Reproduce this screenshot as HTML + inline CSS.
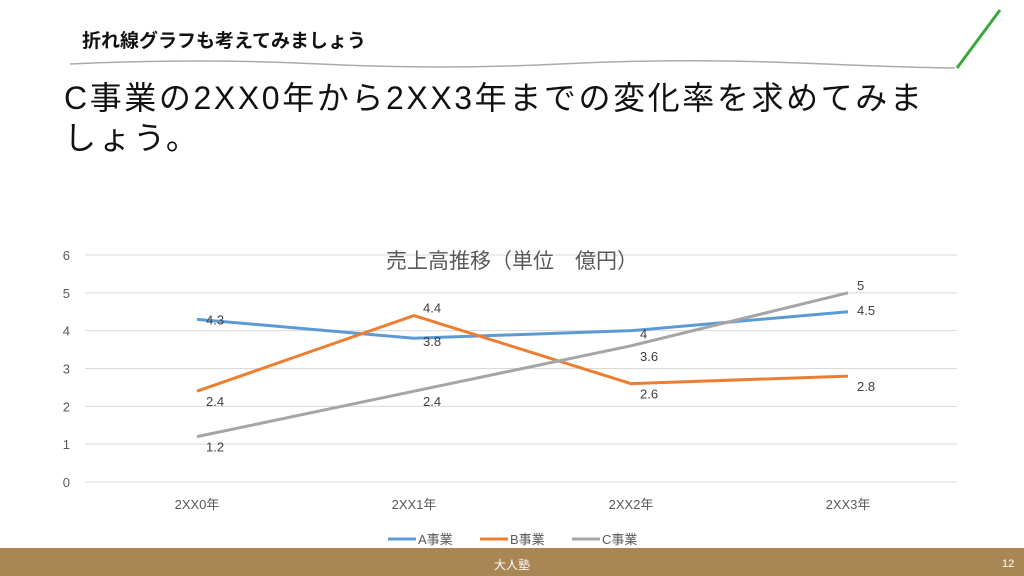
<!DOCTYPE html>
<html><head><meta charset="utf-8"><style>
body{margin:0;width:1024px;height:576px;overflow:hidden;background:#fff;font-family:"Liberation Sans","Noto Sans CJK JP",sans-serif;position:relative}
.h{position:absolute;left:82px;top:26px;font-size:19px;font-weight:bold;color:#111}
.q{position:absolute;left:64px;top:78px;font-size:32px;letter-spacing:2.6px;line-height:40px;color:#111;white-space:nowrap}
.f{position:absolute;left:0;top:548px;width:1024px;height:28px;background:#a88755;color:#fff;font-size:12px}
</style></head><body>
<div class="h">折れ線グラフも考えてみましょう</div>
<svg style="position:absolute;left:0;top:0" width="1024" height="80">
<path d="M70 64 Q200 58 320 64 T560 64 T800 63 T955 68" stroke="#aaa" stroke-width="1.5" fill="none"/>
<line x1="1000" y1="10" x2="957" y2="68" stroke="#3aa83a" stroke-width="3"/>
</svg>
<div class="q">C事業の2XX0年から2XX3年までの変化率を求めてみま<br>しょう。</div>
<svg id="c" style="position:absolute;left:0;top:0" width="1024" height="548"></svg>
<div class="f"><span style="position:absolute;left:494px;top:8px">大人塾</span><span style="position:absolute;left:1002px;top:10px;font-size:11px">12</span></div>
<script>
const categories=["2XX0年","2XX1年","2XX2年","2XX3年"];
const seriesA=[4.3,3.8,4,4.5];
const seriesB=[2.4,4.4,2.6,2.8];
const seriesC=[1.2,2.4,3.6,5];
const yTicks=[0,1,2,3,4,5,6];
const names=["A事業","B事業","C事業"];
const colors=["#5b9bd5","#ed7d31","#a5a5a5"];
const svg=document.getElementById('c');const NS='http://www.w3.org/2000/svg';
const x=i=>197+i*217, y=v=>482-v*37.83;
function mk(t,a,txt){const e=document.createElementNS(NS,t);for(const k in a)e.setAttribute(k,a[k]);if(txt!==undefined)e.textContent=txt;svg.appendChild(e);return e;}
yTicks.forEach(v=>{
 const l=mk('line',{x1:85,x2:957,y1:y(v),y2:y(v),stroke:'#d9d9d9'});
 
 
 const t=mk('text',{x:70,y:y(v)+5,'text-anchor':'end','font-size':13,fill:'#595959'},v);
 
 
});
categories.forEach((c,i)=>{
 const t=mk('text',{x:x(i),y:509,'text-anchor':'middle','font-size':13,fill:'#595959'},c);
 
 
});
const tt=mk('text',{x:512,y:268,'text-anchor':'middle','font-size':21,fill:'#595959'},'売上高推移（単位　億円）');


[seriesA,seriesB,seriesC].forEach((s,k)=>{
 const p=mk('polyline',{points:s.map((v,i)=>x(i)+','+y(v)).join(' '),fill:'none',stroke:colors[k],'stroke-width':3,'stroke-linejoin':'round'});
 
 
 s.forEach((v,i)=>{
  const t=mk('text',{x:x(i)+9,y:y(v)+(k==0&&i==0?5:(k==0&&i>0&&i<3?8:(v>=4.4&&k==1||k==2&&i==3||k==0&&i==3?-3:15)))- (k==0&&i==3? -6:0),'font-size':13,fill:'#404040'},v);
  
  
 });
 const lx=388+k*92;
 const ll=mk('line',{x1:lx,x2:lx+28,y1:539,y2:539,stroke:colors[k],'stroke-width':3});
 
 
 const lt=mk('text',{x:lx+30,y:544,'font-size':13,fill:'#595959'},names[k]);
 
 
});
</script>
</body></html>
